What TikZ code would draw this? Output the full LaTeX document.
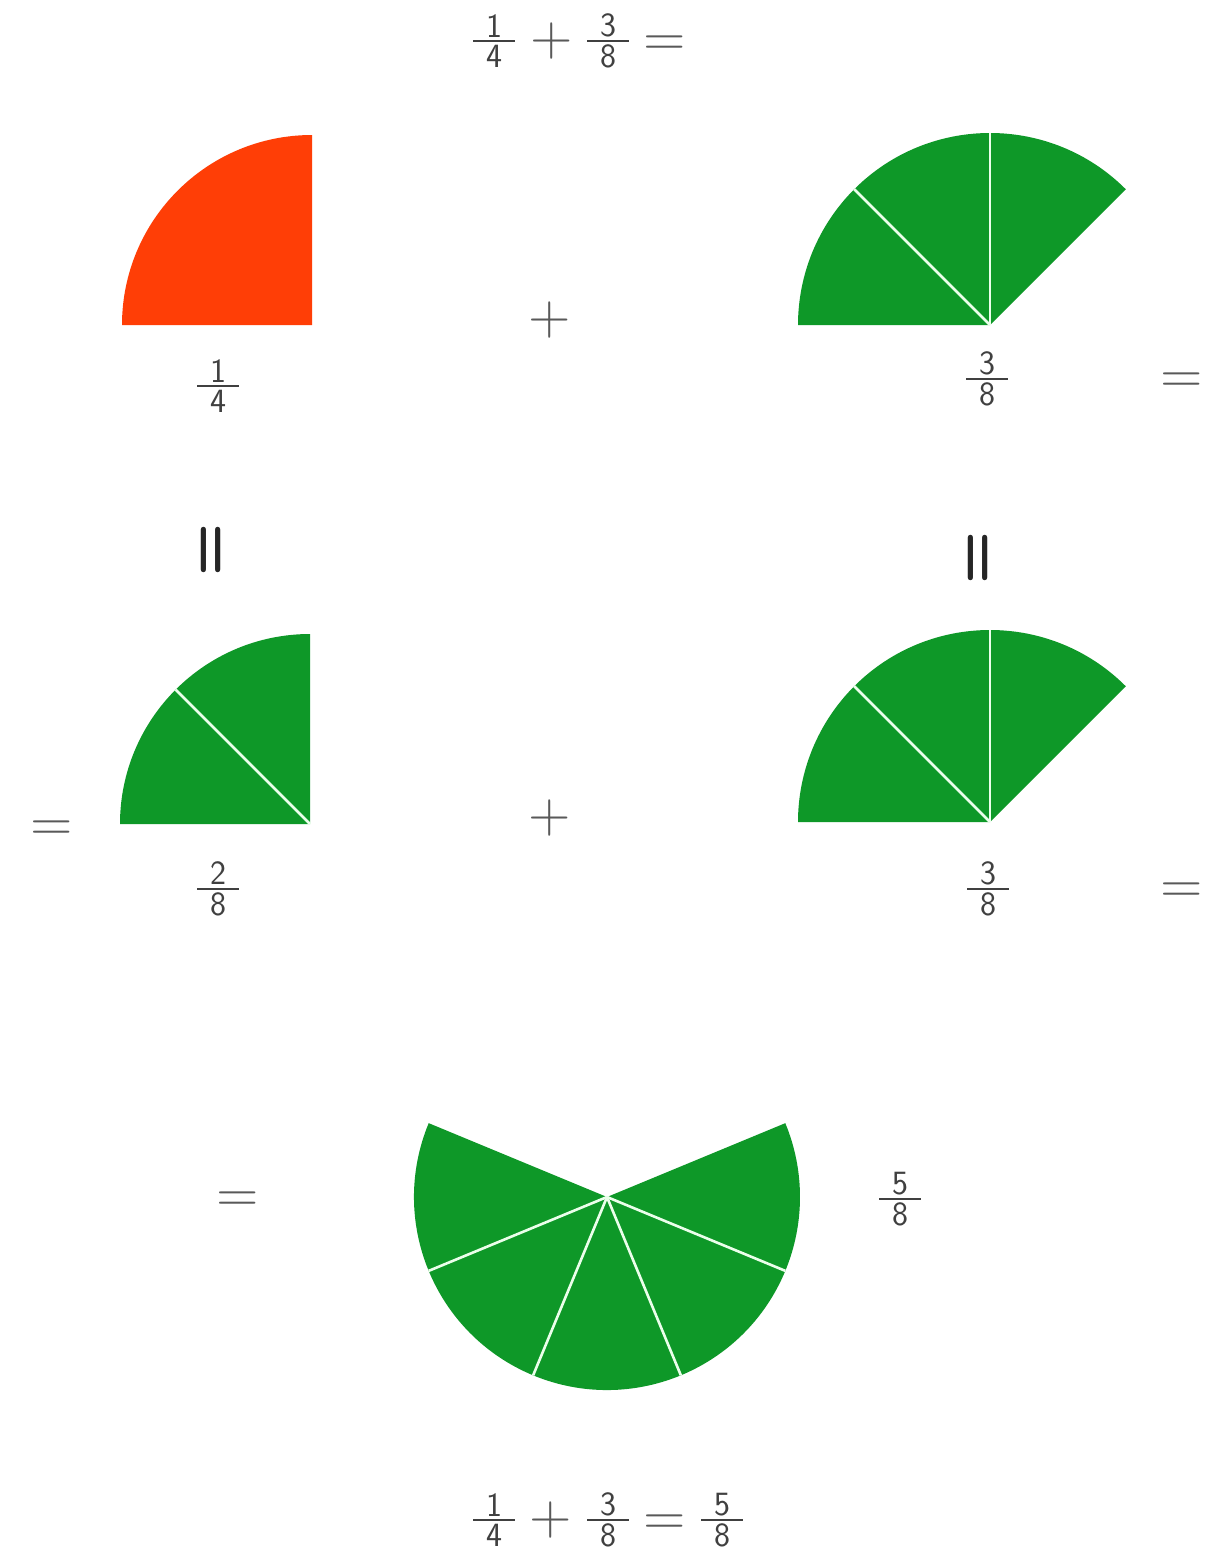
\documentclass[tikz,border=0pt]{standalone}
\usepackage{fontspec}
\begin{document}
\begin{tikzpicture}[x=1pt,y=1pt,
  txt/.style={inner sep=0pt, text=black!75, font=\fontsize{34}{34}\sffamily},
  op/.style={inner sep=0pt, text=black!65, font=\fontsize{58}{58}\sffamily},
  eq/.style={op, yshift=-5pt},
  vop/.style={inner sep=0pt, text=black!85, rotate=90, font=\fontsize{62}{62}\sffamily\bfseries},
  divline/.style={draw=white!92!green, line width=2.6pt}]
\definecolor{grn}{RGB}{14,152,40}
\definecolor{rd}{RGB}{255,62,6}
\newcommand\fr[2]{\vbox{\hbox to 42pt{\hss#1\hss}\kern3pt\hrule height 2pt\kern3pt\hbox to 42pt{\hss#2\hss}}}
\useasboundingbox[fill=white] (0,0) rectangle (1229,-1551);

% top equation
\node[txt] (t1) at (494,-41) {\fr{1}{4}};
\node[op]  (t2) at (552,-41) {+};
\node[txt] (t3) at (608,-41) {\fr{3}{8}};
\node[eq]  (t4) at (665,-41) {=};

% red quarter
\fill[rd] (312,-325) -- ++(90:190) arc[start angle=90, end angle=180, radius=190] -- cycle;
\node[txt] (f1) at (218,-386) {\fr{1}{4}};
\node[op] (p1) at (550,-320) {+};

% top right 3/8
\fill[grn] (990,-325) -- ++(45:192) arc[start angle=45, end angle=180, radius=192] -- cycle;
\coordinate (c1) at (990,-325);
\draw[divline] (c1) -- ++(90:192);
\draw[divline] (c1) -- ++(135:192);
\node[txt] (f2) at (987,-379) {\fr{3}{8}};
\node[eq] (e1) at (1182,-378) {=};

% vertical equals
\node[vop] (v1) at (214,-550) {=};
\node[vop] (v2) at (981,-558) {=};

% middle left 2/8
\node[eq] (e2) at (52,-826) {=};
\fill[grn] (310,-824) -- ++(90:190) arc[start angle=90, end angle=180, radius=190] -- cycle;
\coordinate (c2) at (310,-824);
\draw[divline] (c2) -- ++(135:190);
\node[txt] (f3) at (218,-889) {\fr{2}{8}};
\node[op] (p2) at (550,-818) {+};

% middle right 3/8
\fill[grn] (990,-822) -- ++(45:192) arc[start angle=45, end angle=180, radius=192] -- cycle;
\coordinate (c3) at (990,-822);
\draw[divline] (c3) -- ++(90:192);
\draw[divline] (c3) -- ++(135:192);
\node[txt] (f4) at (988,-889) {\fr{3}{8}};
\node[eq] (e3) at (1182,-888) {=};

% bottom 5/8
\node[eq] (e4) at (238,-1197) {=};
\coordinate (c4) at (607,-1197);
\fill[grn] (c4) -- ++(157.5:193) arc[start angle=157.5, end angle=382.5, radius=193] -- cycle;
\foreach \a in {202.5,247.5,292.5,337.5}
  \draw[divline] (c4) -- ++(\a:193);
\node[txt] (f5) at (900,-1199) {\fr{5}{8}};

% bottom equation
\node[txt] (b1) at (494,-1520) {\fr{1}{4}};
\node[op]  (b2) at (551,-1520) {+};
\node[txt] (b3) at (608,-1520) {\fr{3}{8}};
\node[eq]  (b4) at (665,-1520) {=};
\node[txt] (b5) at (722,-1520) {\fr{5}{8}};
\end{tikzpicture}
\end{document}
